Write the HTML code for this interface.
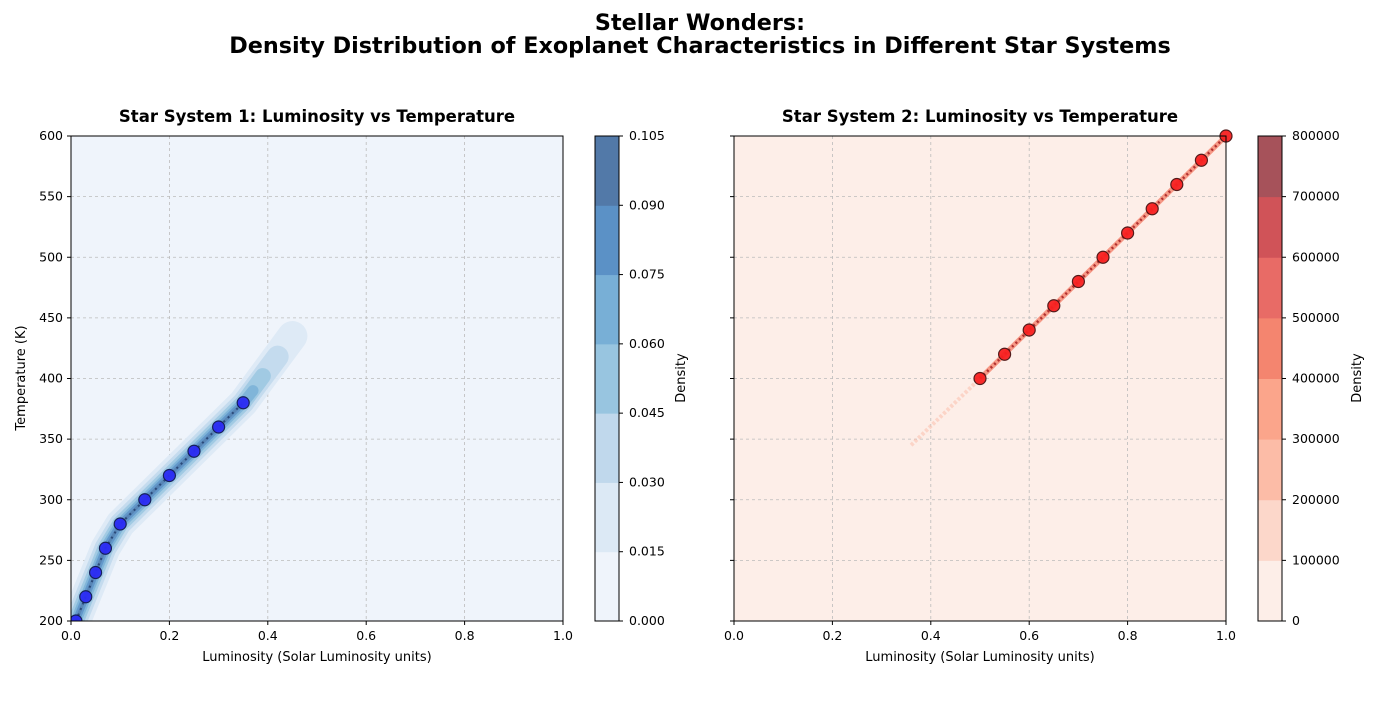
<!DOCTYPE html>
<html><head><meta charset="utf-8"><style>
body{margin:0;background:#fff;font-family:"Liberation Sans","DejaVu Sans",sans-serif}
svg text{font-family:"DejaVu Sans","Liberation Sans",sans-serif}
</style></head><body>
<svg id="c" width="1400" height="700" xmlns="http://www.w3.org/2000/svg">
<defs>
<clipPath id="clip1"><rect x="71" y="136" width="492" height="485"/></clipPath>
<clipPath id="clip2"><rect x="734" y="136" width="493" height="485"/></clipPath>
</defs>
<text x="700" y="30" text-anchor="middle" font-size="22.3" font-weight="bold">Stellar Wonders:</text>
<text x="700" y="53" text-anchor="middle" font-size="22.3" font-weight="bold">Density Distribution of Exoplanet Characteristics in Different Star Systems</text>
</svg>
<script>
const xs1=[0.01,0.03,0.05,0.07,0.1,0.15,0.2,0.25,0.3,0.35];
const ys1=[200,220,240,260,280,300,320,340,360,380];
const xs2=[0.5,0.55,0.6,0.65,0.7,0.75,0.8,0.85,0.9,0.95,1.0];
const ys2=[400,420,440,460,480,500,520,540,560,580,600];
const xTicks=[0,0.2,0.4,0.6,0.8,1.0];
const yTicks=[200,250,300,350,400,450,500,550,600];
const cb1Ticks=["0.000","0.015","0.030","0.045","0.060","0.075","0.090","0.105"];
const cb2Ticks=["0","100000","200000","300000","400000","500000","600000","700000","800000"];
const blues=["#eff4fb","#dce9f5","#c0d8ec","#98c5e0","#78afd6","#5b91c6","#5279a8"];
const reds=["#fdeee8","#fcd7ca","#fcbca7","#fba58b","#f4856f","#e86b66","#d05358","#a6525a"];
const svg=document.getElementById('c');const NS='http://www.w3.org/2000/svg';
function el(t,a,p){const e=document.createElementNS(NS,t);for(const k in a)e.setAttribute(k,a[k]);(p||svg).appendChild(e);return e;}
function panel(ox,bg,name){
 const W=492,H=485,top=136;
 const sx=v=>ox+v*W, sy=v=>top+H-(v-200)/400*H;
 const g=el('g',{});
 
 
 const r=el('rect',{x:ox,y:top,width:W,height:H,fill:bg},g);
 
 xTicks.forEach(t=>{el('line',{x1:sx(t),x2:sx(t),y1:top,y2:top+H,stroke:'#bbb','stroke-width':0.8,'stroke-dasharray':'3,3'},g);
  el('line',{x1:sx(t),x2:sx(t),y1:top+H,y2:top+H+4,stroke:'#000'},g);
  const tx=el('text',{x:sx(t),y:top+H+19,'text-anchor':'middle','font-size':12.5},g);tx.textContent=t.toFixed(1);
  });
 yTicks.forEach(t=>{el('line',{x1:ox,x2:ox+W,y1:sy(t),y2:sy(t),stroke:'#bbb','stroke-width':0.8,'stroke-dasharray':'3,3'},g);
  el('line',{x1:ox-4,x2:ox,y1:sy(t),y2:sy(t),stroke:'#000'},g);});
 return {g,sx,sy,W,H,top};
}
function frame(p,ox){el('rect',{x:ox,y:p.top,width:p.W,height:p.H,fill:'none',stroke:'#000','stroke-width':1},p.g);}
function pts(sx,sy,xs,ys){return xs.map((x,i)=>sx(x)+','+sy(ys[i])).join(' ');}
const p1=panel(71,'#eff4fb','panel-system-1');
yTicks.forEach(t=>{const tx=el('text',{x:63,y:p1.sy(t)+4,'text-anchor':'end','font-size':12.5},p1.g);tx.textContent=t;
 });
{
 const cg=el('g',{'clip-path':'url(#clip1)'},p1.g);
 const bands=[[30,'#dce9f5',0.95,0.10,55],[22,'#c0d8ec',0.85,0.07,38],[16,'#98c5e0',0.8,0.04,22],[11,'#78afd6',0.8,0.02,10],[7,'#5b91c6',0.8,0,0],[3,'#5279a8',0.6,0,0]];
 bands.forEach(b=>{const xsB=[-0.02].concat(xs1,[0.35+b[3]]);const ysB=[180].concat(ys1,[380+b[4]]);
  const pl=el('polyline',{points:pts(p1.sx,p1.sy,xsB,ysB),fill:'none',stroke:b[1],'stroke-width':b[0],'stroke-linecap':'round','stroke-linejoin':'round',opacity:b[2]},cg);
  });
 el('polyline',{points:pts(p1.sx,p1.sy,xs1,ys1),fill:'none',stroke:'#2a4a7a','stroke-width':2,'stroke-dasharray':'2,4'},cg);
 xs1.forEach((x,i)=>{const c=el('circle',{cx:p1.sx(x),cy:p1.sy(ys1[i]),r:6,fill:'#2b2bf5',stroke:'#111a55','stroke-width':1.2,opacity:0.95},cg);
  });
}
frame(p1,71);
const p2=panel(734,'#fdeee8','panel-system-2');
{
 const cg=el('g',{'clip-path':'url(#clip2)'},p2.g);
 const lx=[0.36,...xs2],ly=[345,...ys2];
 el('polyline',{points:pts(p2.sx,p2.sy,lx,ly),fill:'none',stroke:'#fbc3b0','stroke-width':4,opacity:0.6,'stroke-dasharray':'3,2'},cg);
 const l=el('polyline',{points:pts(p2.sx,p2.sy,xs2,ys2),fill:'none',stroke:'#f4856f','stroke-width':5,opacity:0.8},cg);
 
 el('polyline',{points:pts(p2.sx,p2.sy,xs2,ys2),fill:'none',stroke:'#b03030','stroke-width':2.5,'stroke-dasharray':'2,3'},cg);
 xs2.forEach((x,i)=>{const c=el('circle',{cx:p2.sx(x),cy:p2.sy(ys2[i]),r:6,fill:'#f82020',stroke:'#4a1010','stroke-width':1.2,opacity:0.95},p2.g);
  });
}
frame(p2,734);
function txt(x,y,s,attrs,name){const t=el('text',Object.assign({x,y,'text-anchor':'middle'},attrs));t.textContent=s;
 return t;}
txt(317,122,'Star System 1: Luminosity vs Temperature',{'font-size':16.5,'font-weight':'bold'},'panel-1-title');
txt(980,122,'Star System 2: Luminosity vs Temperature',{'font-size':16.5,'font-weight':'bold'},'panel-2-title');
txt(317,661,'Luminosity (Solar Luminosity units)',{'font-size':13},'x-axis-title-1');
txt(980,661,'Luminosity (Solar Luminosity units)',{'font-size':13},'x-axis-title-2');
txt(25,378,'Temperature (K)',{'font-size':13,transform:'rotate(-90 25 378)'},'y-axis-title');
function cbar(x,cols,ticks,name,lx){const top=136,H=485,n=cols.length,bh=H/n;
 const g=el('g',{});
 cols.forEach((c,i)=>el('rect',{x,y:top+H-(i+1)*bh,width:24,height:bh+0.5,fill:c},g));
 el('rect',{x,y:top,width:24,height:H,fill:'none',stroke:'#000'},g);
 ticks.forEach((t,i)=>{const y=top+H-i*H/(ticks.length-1);el('line',{x1:x+24,x2:x+28,y1:y,y2:y,stroke:'#000'},g);
  const tx=el('text',{x:x+34,y:y+4,'font-size':12.5},g);tx.textContent=t;
  });
 txt(lx,378,'Density',{'font-size':13,transform:'rotate(-90 '+lx+' 378)'},name+'-label');}
cbar(595,blues,cb1Ticks,'colorbar-1',685);
cbar(1258,reds,cb2Ticks,'colorbar-2',1361);
</script>
</body></html>
